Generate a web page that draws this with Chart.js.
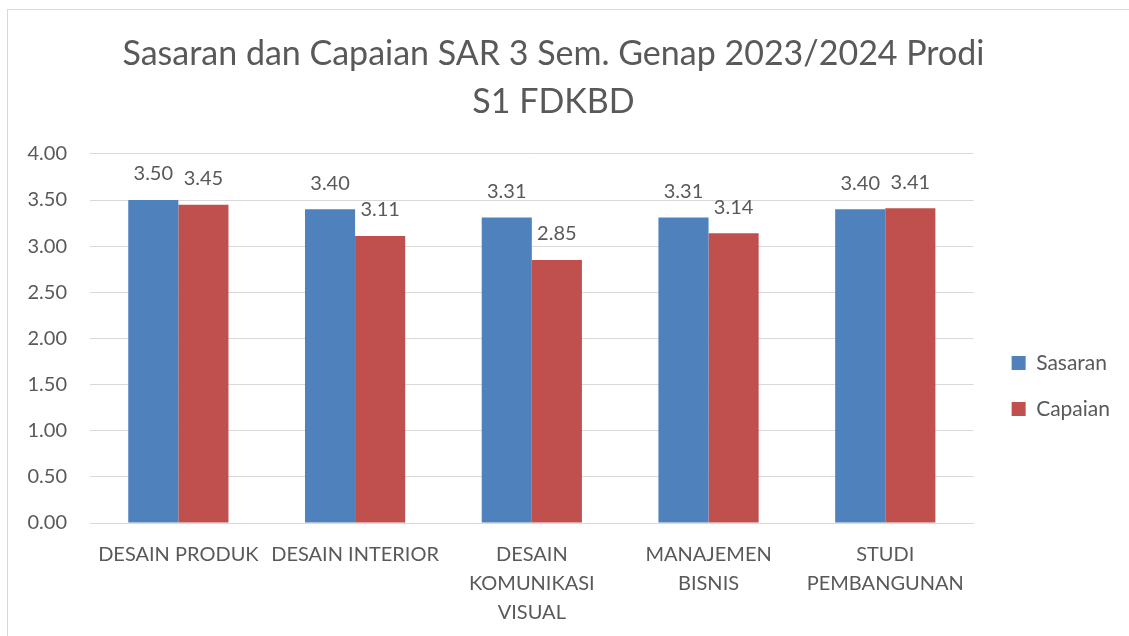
<!DOCTYPE html>
<html>
<head>
<meta charset="utf-8">
<script src="https://cdn.jsdelivr.net/npm/chart.js@4.4.1/dist/chart.umd.min.js"></script>
<style>
  html, body { margin: 0; padding: 0; background: #ffffff; }
  #wrap { position: relative; width: 1129px; height: 636px; overflow: hidden; }
  #frame { position: absolute; left: 7px; top: 9px; width: 1200px; height: 700px; border: 1px solid #D9D9D9; pointer-events: none; }
  canvas { position: absolute; left: 0; top: 0; }
</style>
</head>
<body>
<div id="wrap">
  <canvas id="c" width="1129" height="636"></canvas>
  <div id="frame"></div>
</div>
<script>
const titleLines = ["Sasaran dan Capaian SAR 3 Sem. Genap 2023/2024 Prodi", "S1 FDKBD"];
const categories = [["DESAIN PRODUK"], ["DESAIN INTERIOR"], ["DESAIN", "KOMUNIKASI", "VISUAL"], ["MANAJEMEN", "BISNIS"], ["STUDI", "PEMBANGUNAN"]];
const seriesNames = ["Sasaran", "Capaian"];
const sasaran = [3.50, 3.40, 3.31, 3.31, 3.40];
const capaian = [3.45, 3.11, 2.85, 3.14, 3.41];
const yMin = 0, yMax = 4, yStep = 0.5;

const FONT = "Lato";
const TEXT = "#595959";
const GRID = "#D9D9D9";

const dataLabels = {
  id: "dataLabels",
  afterDatasetsDraw(chart) {
    const ctx = chart.ctx;
    ctx.save();
    ctx.font = "20px " + FONT;
    ctx.fillStyle = TEXT;
    ctx.textAlign = "center";
    ctx.textBaseline = "middle";
    chart.data.datasets.forEach((ds, i) => {
      const meta = chart.getDatasetMeta(i);
      meta.data.forEach((el, j) => {
        ctx.fillText(Number(ds.data[j]).toFixed(2), el.x, el.y - 26);
      });
    });
    ctx.restore();
  }
};

const legendShift = {
  id: "legendShift",
  afterLayout(chart) {
    const lg = chart.legend;
    if (!lg) return;
    const dx = 13, dy = 68;
    lg.left += dx; lg.right += dx; lg.top += dy; lg.bottom += dy;
  }
};

new Chart(document.getElementById("c"), {
  type: "bar",
  data: {
    labels: categories,
    datasets: [
      { label: seriesNames[0], data: sasaran, backgroundColor: "#4F81BD", categoryPercentage: 0.567, barPercentage: 1.0 },
      { label: seriesNames[1], data: capaian, backgroundColor: "#C0504D", categoryPercentage: 0.567, barPercentage: 1.0 }
    ]
  },
  options: {
    responsive: false,
    animation: false,
    devicePixelRatio: 1,
    layout: { padding: { left: 0, right: 22, top: 0, bottom: 0 } },
    plugins: {
      title: {
        display: true,
        text: titleLines,
        color: TEXT,
        font: { family: FONT, size: 34, weight: "normal", lineHeight: 1.41 },
        padding: { top: 30, bottom: 28 }
      },
      legend: {
        position: "right",
        labels: {
          color: TEXT,
          font: { family: FONT, size: 21 },
          boxWidth: 14, boxHeight: 14,
          padding: 25
        }
      },
      tooltip: { enabled: false }
    },
    scales: {
      x: {
        afterFit(s) { s.height = 113; },
        grid: { display: false },
        border: { display: true, color: GRID, width: 1 },
        ticks: { color: TEXT, font: { family: FONT, size: 20, lineHeight: 1.45 }, padding: 9, maxRotation: 0, autoSkip: false }
      },
      y: {
        min: yMin, max: yMax,
        afterFit(s) { s.width = 90; },
        grid: { color: GRID, drawTicks: false },
        border: { display: false },
        ticks: { stepSize: yStep, color: TEXT, font: { family: FONT, size: 20 }, padding: 23, callback: v => Number(v).toFixed(2) }
      }
    }
  },
  plugins: [dataLabels, legendShift]
});
</script>
</body>
</html>
